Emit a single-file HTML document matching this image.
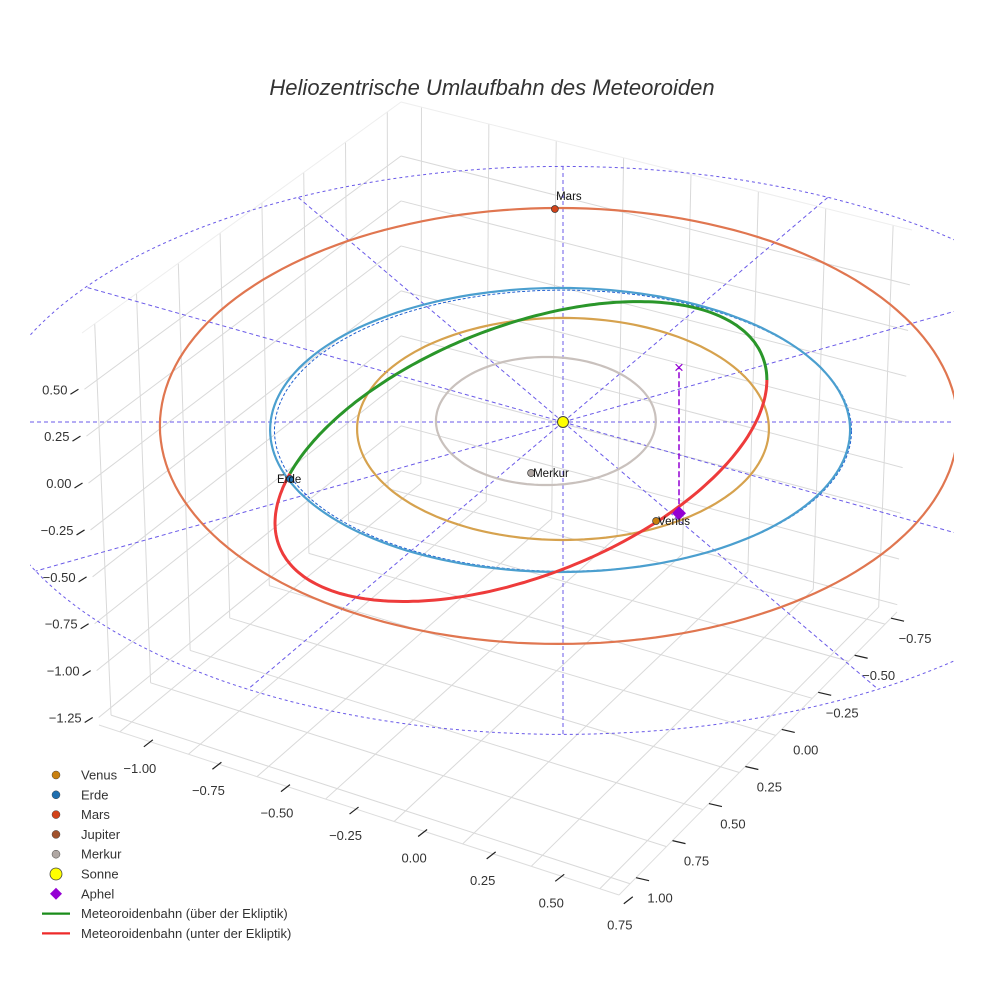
<!DOCTYPE html>
<html><head><meta charset="utf-8">
<style>
html,body{margin:0;padding:0;background:#fff;}
svg{display:block;font-family:"Liberation Sans",sans-serif;}
</style></head>
<body>
<svg id="chart" width="984" height="984" viewBox="0 0 984 984">
<defs><clipPath id="clip"><rect x="30" y="100" width="924" height="860"/></clipPath></defs>
<rect width="984" height="984" fill="#fff"/>
<text x="492" y="95" text-anchor="middle" font-size="22" font-style="italic" fill="#333">Heliozentrische Umlaufbahn des Meteoroiden</text>
<g id="grid"></g>
<g id="axes"></g>
<g id="plot" clip-path="url(#clip)"></g>
<g id="legend"></g>
</svg>
<script>
// ---- data ----
const zTicks = [0.5, 0.25, 0, -0.25, -0.5, -0.75, -1.0, -1.25];
const yTicks = [-1.0, -0.75, -0.5, -0.25, 0, 0.25, 0.5, 0.75];
const xTicks = [1.0, 0.75, 0.5, 0.25, 0, -0.25, -0.5, -0.75];
const orbitNames = ["Merkur", "Venus", "Erde", "Mars"];
const orbitCx = [-0.059, 0.0, -0.01, -0.014];
const orbitCy = [0.007, -0.049, -0.056, -0.028];
const orbitRx = [0.379, 0.71, 1.0, 1.376];
const orbitRy = [0.451, 0.782, 1.0, 1.535];
const orbitColors = ["#c9c1bd", "#d6a24e", "#4b9fcf", "#e07650"];
const planetNames = ["Mars", "Erde", "Venus", "Merkur"];
const planetX = [-0.028, -0.941, 0.321, -0.11];
const planetY = [1.5, -0.401, -0.697, -0.359];
const planetColors = ["#d2431a", "#1f6fb0", "#c98010", "#b0a8a4"];
const meteorParams = [-0.145, -0.208, 0.848, 1.056, -28.5]; // cx, cy, ax, by, phase(deg)
const meteorSplit = [-160, 0, 200]; // above from..to, below to
const aphelXYZ = [0.4, 0.387, -0.86];
const refRadius = [2.0, 0.2]; // base radius, perspective factor
const spokeAngles = [30, 60, 90, 120, 150, 210, 240, 270, 300, 330];
const legendLabels = ["Venus","Erde","Mars","Jupiter","Merkur","Sonne","Aphel","Meteoroidenbahn (über der Ekliptik)","Meteoroidenbahn (unter der Ekliptik)"];
const legendColors = ["#c98010","#1f6fb0","#d2431a","#a0522d","#b0a8a4","#ffff00","#9400d3","#1a8c1a","#ee2a2a"];

const NS="http://www.w3.org/2000/svg";
function mk(tag, attrs, parent){const e=document.createElementNS(NS,tag);for(const k in attrs)e.setAttribute(k,attrs[k]);parent.appendChild(e);return e;}
const grid=document.getElementById('grid'), axes=document.getElementById('axes'), plot=document.getElementById('plot'), legend=document.getElementById('legend');

// ---- box geometry ----
const L=[99,725], B=[401,478], R=[897,612], F=[619,895];
const Lt=[82,333], Bt=[401,102], Rt=[912,230];
function bil(p00,p10,p01,p11,u,v){return [
 (1-u)*(1-v)*p00[0]+u*(1-v)*p10[0]+(1-u)*v*p01[0]+u*v*p11[0],
 (1-u)*(1-v)*p00[1]+u*(1-v)*p10[1]+(1-u)*v*p01[1]+u*v*p11[1]];}
const ux=x=>(1.076-x)/1.908, vy=y=>(y+1.076)/1.896, wz=z=>(z+1.29)/2.09;
const floorP=(u,v)=>bil(L,B,F,R,u,v);
const leftP=(u,w)=>bil(L,B,Lt,Bt,u,w);
const rightP=(v,w)=>bil(B,R,Bt,Rt,v,w);
function gline(a,b,name,col){const e=mk('line',{x1:a[0],y1:a[1],x2:b[0],y2:b[1],stroke:col||'#d9d9d9','stroke-width':1},grid);

}
xTicks.forEach(x=>{const u=ux(x);gline(floorP(u,0),floorP(u,1),'floor-gridline-x');gline(leftP(u,0),leftP(u,1),'left-wall-gridline-x');});
yTicks.forEach(y=>{const v=vy(y);gline(floorP(0,v),floorP(1,v),'floor-gridline-y');gline(rightP(v,0),rightP(v,1),'right-wall-gridline-y');});
zTicks.forEach(z=>{const w=wz(z);gline(leftP(0,w),leftP(1,w),'left-wall-gridline-z');gline(rightP(0,w),rightP(1,w),'right-wall-gridline-z');});
gline(Lt,Bt,'box-edge','#eee');gline(Bt,Rt,'box-edge','#eee');gline(L,F,'box-edge','#ddd');gline(F,R,'box-edge','#ddd');

// ---- ticks ----
function tick(a,b,lab,lx,ly,anchor,name){
 const t=mk('line',{x1:a[0],y1:a[1],x2:b[0],y2:b[1],stroke:'#222','stroke-width':1.2},axes);
 
 
 const s=mk('text',{x:lx,y:ly,'font-size':13,fill:'#333','text-anchor':anchor},axes);s.textContent=lab;
 
 }
const fmt=v=>(v<0?'\u2212':'')+Math.abs(v).toFixed(2);
zTicks.forEach(z=>{const w=wz(z);const p=leftP(0,w);
 tick([p[0]-14,p[1]+5],[p[0]-6,p[1]],fmt(z),p[0]-17,p[1]+5,'end','z-axis');});
yTicks.forEach(y=>{const v=vy(y);const p=floorP(0,v);
 tick([p[0]+24,p[1]+15],[p[0]+33,p[1]+8],fmt(y),p[0]+20,p[1]+41,'middle','y-axis');});
xTicks.forEach(x=>{const u=ux(x);const p=floorP(u,1);
 tick([p[0]+6,p[1]-6],[p[0]+19,p[1]-3],fmt(x),p[0]+30,p[1]+19,'middle','x-axis');});

// ---- ecliptic projection ----
const P=(x,y,z)=>[563+290*x, 422-142*y-170*(z||0)];
function pathFrom(pts){return pts.map((p,i)=>(i?'L':'M')+p[0].toFixed(1)+' '+p[1].toFixed(1)).join(' ');}
function ellPts(cx,cy,rx,ry,a0,a1){const pts=[];for(let i=0;i<=180;i++){const t=(a0+(a1-a0)*i/180)*Math.PI/180;pts.push(P(cx+rx*Math.cos(t),cy+ry*Math.sin(t),0));}return pts;}
const refR=t=>refRadius[0]-refRadius[1]*Math.sin(t);

// reference dashed circle and spokes
{const pts=[];for(let i=0;i<=240;i++){const t=i/240*2*Math.PI;const r=refR(t);pts.push(P(r*Math.cos(t),r*Math.sin(t),0));}
 const rc=mk('path',{d:pathFrom(pts),fill:'none',stroke:'#6a5ae8','stroke-width':1,'stroke-dasharray':'3,3'},plot);
 
 }
spokeAngles.forEach(a=>{const t=a*Math.PI/180;const r=refR(t);const e=P(r*Math.cos(t),r*Math.sin(t),0);const s=P(0,0,0);
 const l=mk('line',{x1:s[0],y1:s[1],x2:e[0],y2:e[1],stroke:'#6a5ae8','stroke-width':1,'stroke-dasharray':'4,3'},plot);
 
 });
{const a=P(-2.2,0,0),b=P(2.2,0,0);const l=mk('line',{x1:a[0],y1:a[1],x2:b[0],y2:b[1],stroke:'#6a5ae8','stroke-width':1,'stroke-dasharray':'4,3'},plot);
 
 }

// planet orbits
orbitNames.forEach((n,i)=>{
 if(n==='Erde'){const d=mk('path',{d:pathFrom(ellPts(orbitCx[i]+0.01,orbitCy[i]-0.005,orbitRx[i]-0.005,orbitRy[i]-0.01,0,360)),fill:'none',stroke:'#1f5fd0','stroke-width':1,'stroke-dasharray':'3,2'},plot);
 
 }
 const o=mk('path',{d:pathFrom(ellPts(orbitCx[i],orbitCy[i],orbitRx[i],orbitRy[i],0,360)),fill:'none',stroke:orbitColors[i],'stroke-width':2.2},plot);
 
 
});

// meteoroid orbit
function metPts(a0,a1){const [cx,cy,ax,by,ph]=meteorParams;const pts=[];for(let i=0;i<=150;i++){const t=(a0+(a1-a0)*i/150)*Math.PI/180;pts.push(P(cx+ax*Math.cos(t),cy-by*Math.sin(t+ph*Math.PI/180),0));}return pts;}
const g1=mk('path',{d:pathFrom(metPts(meteorSplit[0],meteorSplit[1])),fill:'none',stroke:'#2a962a','stroke-width':3},plot);


const r1=mk('path',{d:pathFrom(metPts(meteorSplit[1],meteorSplit[2])),fill:'none',stroke:'#ee3b3b','stroke-width':3},plot);



// aphel
{const a=P(aphelXYZ[0],aphelXYZ[1],aphelXYZ[2]),b=P(aphelXYZ[0],aphelXYZ[1],0);
 const l=mk('line',{x1:a[0],y1:a[1],x2:b[0],y2:b[1],stroke:'#9400d3','stroke-width':1.5,'stroke-dasharray':'6,3'},plot);
 
 
 const x=mk('text',{x:b[0],y:b[1]+6,'font-size':17,fill:'#9400d3','text-anchor':'middle'},plot);x.textContent='\u00d7';
 
 
 const d=mk('path',{d:`M${a[0]} ${a[1]-7}L${a[0]+7} ${a[1]}L${a[0]} ${a[1]+7}L${a[0]-7} ${a[1]}Z`,fill:'#9400d3'},plot);
 
 }

// planets
planetNames.forEach((n,i)=>{const p=P(planetX[i],planetY[i],0);
 const c=mk('circle',{cx:p[0],cy:p[1],r:3.5,fill:planetColors[i],stroke:'#333','stroke-width':0.7},plot);
 
 
 let tx=p[0]+2,ty=p[1]+4,anc='start';
 if(n==='Mars'){tx=p[0]+14;ty=p[1]-9;anc='middle';}
 if(n==='Erde'){tx=p[0]-1;ty=p[1]+4;anc='middle';}
 const t=mk('text',{x:tx,y:ty,'font-size':11.5,fill:'#111','text-anchor':anc},plot);t.textContent=n;
 
 });
{const s=P(0,0,0);const c=mk('circle',{cx:s[0],cy:s[1],r:5.5,fill:'#ffff00',stroke:'#444','stroke-width':1},plot);
 
 }

// legend
legendLabels.forEach((lab,i)=>{const y=775+i*19.8;const g=mk('g',{},legend);
 
 
 if(i<5)mk('circle',{cx:56,cy:y,r:4,fill:legendColors[i],stroke:'#444','stroke-width':0.5},g);
 else if(i===5)mk('circle',{cx:56,cy:y,r:6,fill:legendColors[i],stroke:'#444','stroke-width':0.8},g);
 else if(i===6)mk('path',{d:`M56 ${y-6}L62 ${y}L56 ${y+6}L50 ${y}Z`,fill:legendColors[i]},g);
 else mk('line',{x1:42,y1:y,x2:70,y2:y,stroke:legendColors[i],'stroke-width':2.2},g);
 const t=mk('text',{x:81,y:y+4.5,'font-size':13,fill:'#333'},g);t.textContent=lab;});
</script>
</body></html>
